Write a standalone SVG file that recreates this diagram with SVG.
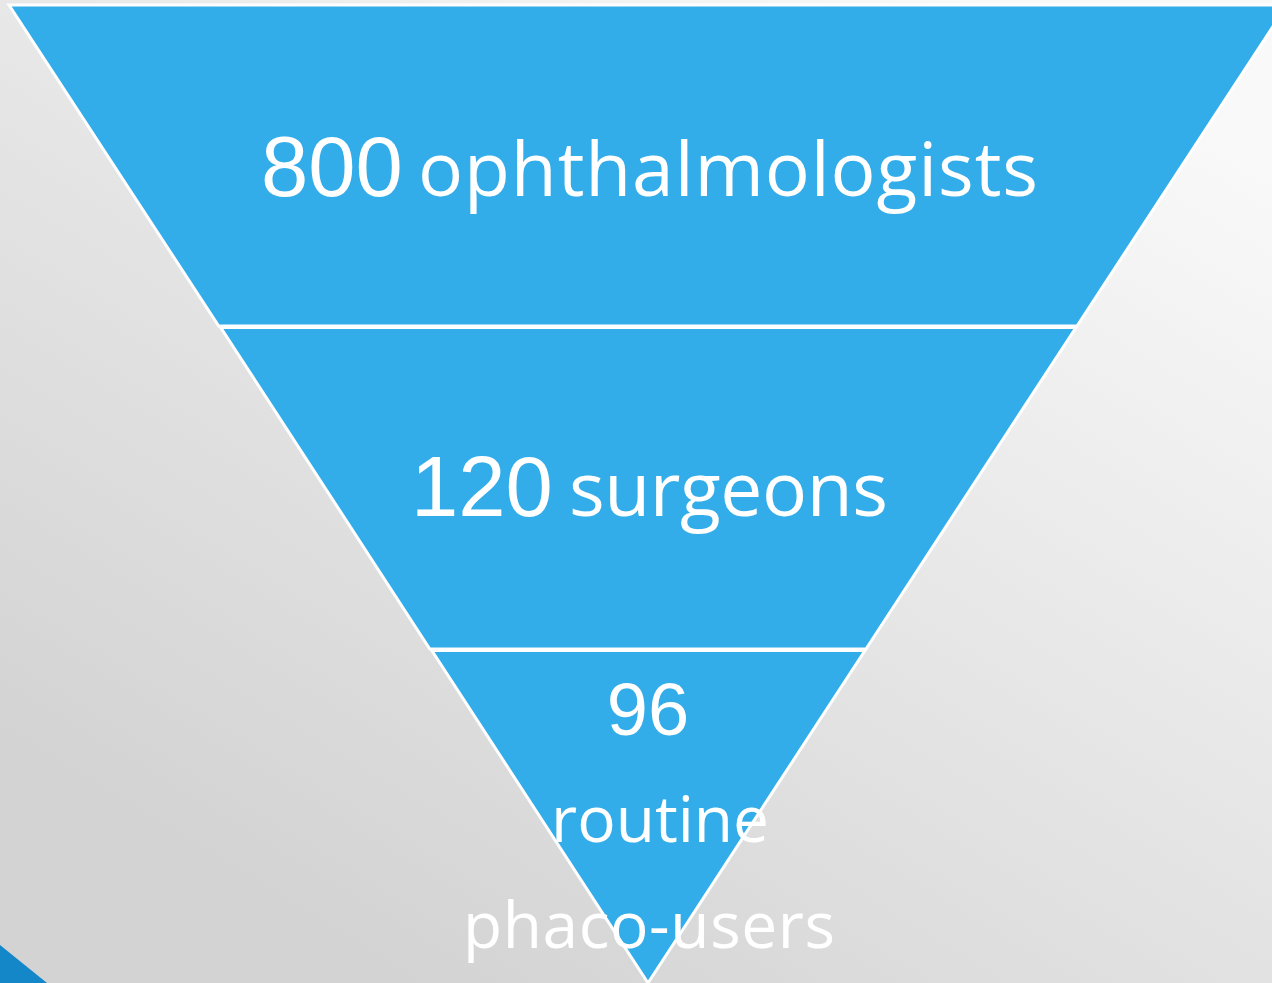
<svg xmlns="http://www.w3.org/2000/svg" width="1272" height="983" viewBox="0 0 1272 983">
  <defs>
    <linearGradient id="bg" gradientUnits="userSpaceOnUse" x1="1000" y1="0" x2="400" y2="983">
      <stop offset="0" stop-color="#f9f9f9"/>
      <stop offset="1" stop-color="#d3d3d3"/>
    </linearGradient>
    <style>
      .seg { fill: #32ade9; stroke: #ffffff; stroke-width: 3; stroke-linejoin: miter; }
      .num { font-family: "Liberation Sans", Arial, sans-serif; fill: #ffffff; }
      .word { font-family: "Open Sans", "Noto Sans", sans-serif; fill: #ffffff; }
    </style>
  </defs>

  <!-- slide background -->
  <rect x="0" y="0" width="1272" height="983" fill="url(#bg)"/>
  <polygon points="0,945 47,983 0,983" fill="#1487c9"/>

  <!-- funnel tiers -->
  <g id="tier-ophthalmologists">
    <polygon class="seg" points="9,5 1287,5 1077,326 218.7,326"/>
    <text y="196"><tspan class="num" x="261" font-size="85">800</tspan><tspan class="word" x="418" font-size="75" textLength="620" lengthAdjust="spacing">ophthalmologists</tspan></text>
  </g>

  <g id="tier-surgeons">
    <polygon class="seg" points="220.7,327.5 1076,327.5 866,649 429.8,649"/>
    <text y="516"><tspan class="num" x="411" font-size="85">120</tspan><tspan class="word" x="569" font-size="75" textLength="319" lengthAdjust="spacing">surgeons</tspan></text>
  </g>

  <g id="tier-phaco-users">
    <polygon class="seg" points="431.8,650.5 865,650.5 648,983"/>
    <text class="num" x="648" y="735" font-size="74" text-anchor="middle">96</text>
    <text class="word" x="660" y="842" font-size="64" text-anchor="middle">routine</text>
    <text class="word" x="649" y="948" font-size="64" text-anchor="middle" textLength="372" lengthAdjust="spacing">phaco-users</text>
  </g>
</svg>
